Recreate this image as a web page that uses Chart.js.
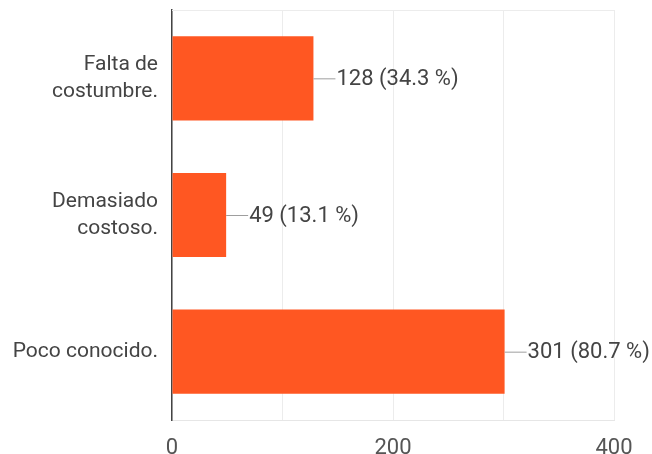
<!DOCTYPE html>
<html lang="es">
<head>
  <meta charset="UTF-8">
  <title>Motivos</title>
  <script src="https://cdn.jsdelivr.net/npm/chart.js"></script>
  <style>
    html, body { margin: 0; padding: 0; background: #fff; }
    #wrap { width: 652px; height: 454px; }
  </style>
</head>
<body>
  <div id="wrap"><canvas id="chartCanvas" width="652" height="454"></canvas></div>

  <script>
    const categories = [["Falta de", "costumbre."], ["Demasiado", "costoso."], ["Poco conocido."]];
    const counts = [128, 49, 301];
    const percents = [34.3, 13.1, 80.7];
    const tickLabels = [0, 200, 400];

    // etiqueta con linea al final de cada barra
    const valueLabels = {
      id: 'valueLabels',
      afterDatasetsDraw(chart) {
        const ctx = chart.ctx;
        const meta = chart.getDatasetMeta(0);
        ctx.save();
        ctx.font = '22px Roboto';
        ctx.textBaseline = 'middle';
        meta.data.forEach((bar, i) => {
          ctx.strokeStyle = '#9e9e9e';
          ctx.lineWidth = 1;
          ctx.beginPath();
          ctx.moveTo(bar.x, bar.y + 0.5);
          ctx.lineTo(bar.x + 22, bar.y + 0.5);
          ctx.stroke();
          ctx.fillStyle = '#444';
          ctx.fillText(counts[i] + ' (' + percents[i] + ' %)', bar.x + 23, bar.y + 1);
        });
        // borde superior del area
        const a = chart.chartArea;
        ctx.strokeStyle = '#ececec';
        ctx.beginPath();
        ctx.moveTo(a.left, a.top + 0.5);
        ctx.lineTo(a.right, a.top + 0.5);
        ctx.stroke();
        ctx.restore();
      }
    };

    new Chart(document.getElementById('chartCanvas'), {
      type: 'bar',
      data: {
        labels: categories,
        datasets: [{
          data: counts,
          backgroundColor: '#ff5722',
          barPercentage: 0.76,
          categoryPercentage: 0.81
        }]
      },
      plugins: [valueLabels],
      options: {
        indexAxis: 'y',
        responsive: false,
        animation: false,
        layout: { padding: { top: 10, right: 38, bottom: 0, left: 0 } },
        plugins: { legend: { display: false }, tooltip: { enabled: false } },
        scales: {
          x: {
            min: 0,
            max: 400,
            ticks: {
              stepSize: 100,
              font: { family: 'Roboto', size: 22 },
              color: '#555',
              padding: 15,
              maxRotation: 0,
              callback: v => tickLabels.includes(v) ? v : ''
            },
            grid: { color: '#ececec', drawTicks: false },
            border: { color: '#e6e6e6' },
            afterFit: s => { s.height = 34; }
          },
          y: {
            ticks: {
              font: { family: 'Roboto', size: 21, lineHeight: 1.3 },
              color: '#444',
              padding: 6
            },
            grid: { display: false },
            border: { color: '#444', width: 1.5 },
            afterFit: s => { s.width = 172; s.paddingTop = 0; s.paddingBottom = 0; }
          }
        }
      }
    });
  </script>
</body>
</html>
